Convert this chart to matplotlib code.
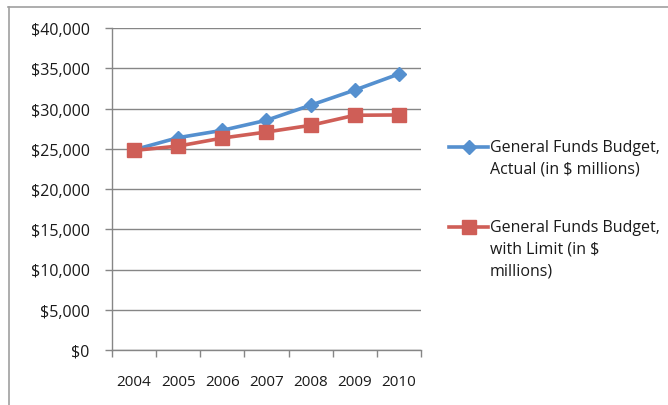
import matplotlib.pyplot as plt
from matplotlib.lines import Line2D
from matplotlib.ticker import FuncFormatter

years = ['2004', '2005', '2006', '2007', '2008', '2009', '2010']
actual = [24870, 26380, 27290, 28540, 30410, 32290, 34290]
with_limit = [24790, 25330, 26330, 27080, 27910, 29160, 29200]
series_names = [['General Funds Budget,', 'Actual (in $ millions)'],
                ['General Funds Budget,', 'with Limit (in $', 'millions)']]

blue = '#5590cf'
red = '#cf5e57'
grid_col = '#868686'
text_col = '#1a1a1a'

plt.rcParams['font.family'] = ['Open Sans', 'DejaVu Sans']

W, H = 668, 406
fig = plt.figure(figsize=(W / 100, H / 100), dpi=100)
ax = fig.add_axes([112 / W, 1 - 351 / H, 309 / W, 322 / H])

styles = [dict(color=blue, lw=2.6, marker='D', ms=7.5),
          dict(color=red, lw=2.6, marker='s', ms=10)]

x = range(len(years))
ax.plot(x, actual, zorder=3, **styles[0])
ax.plot(x, with_limit, zorder=4, **styles[1])

ax.set_xlim(-0.5, len(years) - 0.5)
ax.set_ylim(0, 40000)
ax.set_yticks(range(0, 40001, 5000))
ax.yaxis.set_major_formatter(FuncFormatter(lambda v, p: '${:,.0f}'.format(v)))
ax.set_xticks([i - 0.5 for i in range(len(years) + 1)], minor=False)
ax.set_xticklabels([])
ax.set_xticks(list(x), minor=True)
ax.set_xticklabels(years, minor=True)
ax.tick_params(axis='x', which='minor', length=0, pad=17, labelsize=11,
               labelcolor=text_col)
ax.tick_params(axis='x', which='major', length=5, color=grid_col, width=1)
ax.tick_params(axis='y', length=5, color=grid_col, width=1, labelsize=11.5,
               pad=11, labelcolor=text_col)

ax.grid(axis='y', color=grid_col, lw=1)
ax.set_axisbelow(True)
for s in ['top', 'right']:
    ax.spines[s].set_visible(False)
for s in ['left', 'bottom']:
    ax.spines[s].set_color(grid_col)
    ax.spines[s].set_linewidth(1)

# legend: handle sits beside the first line of each label
entry_top = [148, 228]
line_step = 22
for st, y0, lines in zip(styles, entry_top, series_names):
    yf = 1 - y0 / H
    fig.add_artist(Line2D([449 / W, 488 / W], [yf, yf], color=st['color'], lw=st['lw']))
    fig.add_artist(Line2D([468.5 / W], [yf], color=st['color'], marker=st['marker'],
                          ms=st['ms'], lw=0))
    for k, txt in enumerate(lines):
        fig.text(490 / W, 1 - (y0 + k * line_step) / H, txt, fontsize=11.5,
                 color=text_col, va='center', ha='left')

# chart area frame (top and left edges)
fig.add_artist(Line2D([8 / W, 1], [1 - 7.5 / H] * 2, color='#a0a0a0', lw=1.2))
fig.add_artist(Line2D([8.5 / W] * 2, [0, 1 - 7.5 / H], color='#a0a0a0', lw=1.2))

fig.savefig('out.png', dpi=100)
